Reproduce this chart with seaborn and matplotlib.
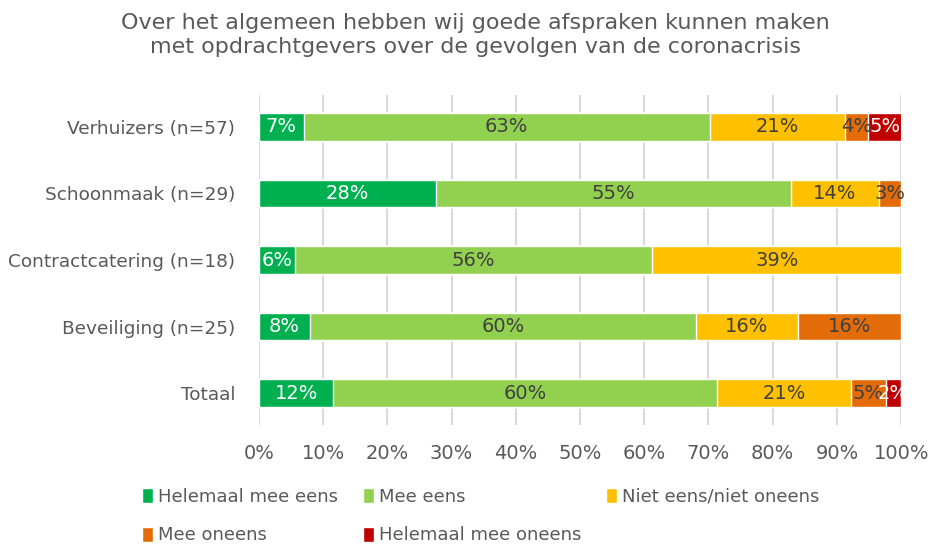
import numpy as np
import pandas as pd
import matplotlib
matplotlib.use("Agg")
import matplotlib.pyplot as plt
import seaborn as sns
from matplotlib.patches import Patch

# data (percent of respondents per sector)
sectors = ["Verhuizers (n=57)", "Schoonmaak (n=29)", "Contractcatering (n=18)",
           "Beveiliging (n=25)", "Totaal"]
answers = ["Helemaal mee eens", "Mee eens", "Niet eens/niet oneens",
           "Mee oneens", "Helemaal mee oneens"]
helemaal_eens = [7.0, 27.6, 5.6, 8.0, 11.6]
mee_eens = [63.2, 55.2, 55.6, 60.0, 59.7]
neutraal = [21.1, 13.8, 38.9, 16.0, 20.9]
mee_oneens = [3.5, 3.4, 0.0, 16.0, 5.4]
helemaal_oneens = [5.3, 0.0, 0.0, 0.0, 2.3]

colors = ["#00B050", "#92D050", "#FFC000", "#E36C09", "#C00000"]
label_colors = ["white", "#404040", "#404040", "#404040", "white"]
TEXT = "#595959"

df = pd.DataFrame({
    "sector": sectors,
    answers[0]: helemaal_eens,
    answers[1]: mee_eens,
    answers[2]: neutraal,
    answers[3]: mee_oneens,
    answers[4]: helemaal_oneens,
})
cum = df[answers].cumsum(axis=1)

sns.set_style("white")
plt.rcParams["font.family"] = ["DejaVu Sans"]

fig = plt.figure(figsize=(9.31, 5.46), dpi=100)
ax = fig.add_axes([0.278, 0.2216, 0.69, 0.6044])

# draw stacked bars back to front: widest cumulative first
for i in range(len(answers) - 1, -1, -1):
    plot_df = pd.DataFrame({"sector": sectors, "value": cum[answers[i]]})
    sns.barplot(data=plot_df, x="value", y="sector", color=colors[i],
                orient="h", width=0.41, saturation=1, ax=ax, zorder=3)

# segment labels
for i, ans in enumerate(answers):
    for j in range(len(sectors)):
        val = df[ans].iloc[j]
        if val <= 0:
            continue
        center = cum[ans].iloc[j] - val / 2
        ax.text(center, j, f"{val:.0f}%", ha="center", va="center",
                fontsize=14, color=label_colors[i], zorder=5)

ax.set_xlim(0, 100)
ax.set_ylim(4.48, -0.48)
ax.set_xticks(np.arange(0, 101, 10))
ax.set_xticklabels([f"{t}%" for t in range(0, 101, 10)])
ax.xaxis.grid(True, color="#D9D9D9", linewidth=1.5, zorder=0)
ax.set_axisbelow(True)
ax.tick_params(axis="x", length=0, pad=14, labelsize=14, labelcolor=TEXT)
ax.tick_params(axis="y", length=0, pad=17, labelsize=13.3, labelcolor=TEXT)
ax.set_xlabel("")
ax.set_ylabel("")
for s in ax.spines.values():
    s.set_visible(False)

fig.text(0.511, 0.977, "Over het algemeen hebben wij goede afspraken kunnen maken\n"
         "met opdrachtgevers over de gevolgen van de coronacrisis",
         ha="center", va="top", fontsize=16, color=TEXT, linespacing=1.3)

# legend in row order (matplotlib fills columns first)
handles = [Patch(facecolor=c) for c in colors]
order = [0, 3, 1, 4, 2]
fig.legend([handles[k] for k in order], [answers[k] for k in order],
           ncol=3, loc="upper left", bbox_to_anchor=(0.145, 0.12),
           frameon=False, fontsize=13, labelcolor=TEXT, handlelength=0.6,
           handleheight=0.9, handletextpad=0.3, columnspacing=1.35,
           labelspacing=1.15, borderaxespad=0)

fig.savefig("out.png", dpi=100)
